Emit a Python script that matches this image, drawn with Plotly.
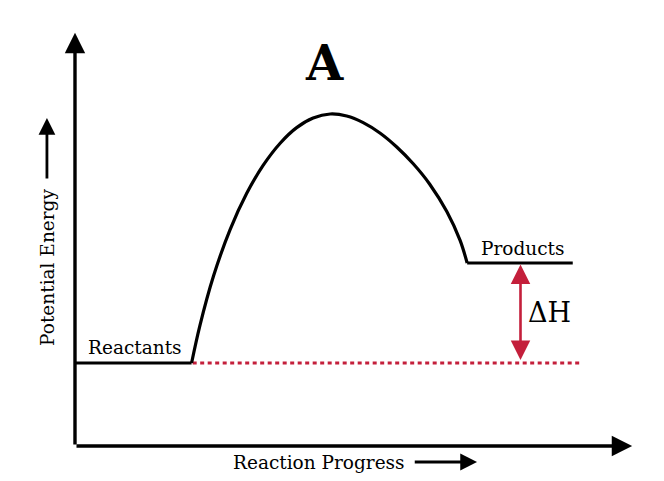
import plotly.graph_objects as go

# reaction progress (x) and potential energy (y), arbitrary units
reactant_x = [0, 21.2]
reactant_y = [20.75, 20.75]

barrier_x = [21.2, 22.7, 25.2, 28.2, 31.2, 34.2, 37.3, 40.3, 43.3, 46.4, 49.4,
             52.4, 55.5, 58.5, 61.5, 64.5, 67.6, 70.0, 71.3]
barrier_y = [20.75, 30.05, 42.55, 54.1, 63.1, 70.15, 75.7, 79.6, 82.0, 83.0, 82.5,
             80.85, 78.2, 74.75, 70.55, 65.45, 58.6, 51.45, 45.75]

product_x = [71.3, 90.5]
product_y = [45.75, 45.75]

ref_x = [21.4, 91.8]
ref_y = [20.75, 20.75]

dh_x = 81.0

# axis extents
x_axis_end = 101.3
y_axis_end = 103.3

FONT = "DejaVu Serif"
RED = "#c41f3b"

fig = go.Figure()
fig.add_trace(go.Scatter(x=ref_x, y=ref_y, mode="lines",
                         line=dict(color=RED, width=3, dash="4px,3.5px")))
fig.add_trace(go.Scatter(x=reactant_x, y=reactant_y, mode="lines",
                         line=dict(color="black", width=3.2)))
fig.add_trace(go.Scatter(x=barrier_x, y=barrier_y, mode="lines",
                         line=dict(color="black", width=3.2, shape="spline", smoothing=1.0)))
fig.add_trace(go.Scatter(x=product_x, y=product_y, mode="lines",
                         line=dict(color="black", width=3.2)))

ann = []
# axes with arrowheads
ann.append(dict(x=x_axis_end, y=0, ax=0, ay=0, xref="x", yref="y", axref="x", ayref="y",
                text="", showarrow=True, arrowhead=2, arrowsize=1.2, arrowwidth=3.4,
                arrowcolor="black", standoff=0))
ann.append(dict(x=0, y=y_axis_end, ax=0, ay=0, xref="x", yref="y", axref="x", ayref="y",
                text="", showarrow=True, arrowhead=2, arrowsize=1.2, arrowwidth=3.4,
                arrowcolor="black", standoff=0))
# delta H double arrow
ann.append(dict(x=dh_x, y=product_y[0] - 0.4, ax=dh_x, ay=reactant_y[0] + 0.4,
                xref="x", yref="y", axref="x", ayref="y", text="", showarrow=True,
                arrowhead=2, startarrowhead=2, arrowside="end+start", arrowsize=1.5,
                startarrowsize=1.5, arrowwidth=2.6, arrowcolor=RED, standoff=0, startstandoff=0))
# axis label arrows
ann.append(dict(x=73.1, y=-4, ax=61.5, ay=-4, xref="x", yref="y", axref="x", ayref="y",
                text="", showarrow=True, arrowhead=2, arrowsize=1.2, arrowwidth=2.8,
                arrowcolor="black", standoff=0))
ann.append(dict(x=-5.1, y=82, ax=-5.1, ay=66.5, xref="x", yref="y", axref="x", ayref="y",
                text="", showarrow=True, arrowhead=2, arrowsize=1.2, arrowwidth=2.8,
                arrowcolor="black", standoff=0))

# texts
ann.append(dict(x=45.45, y=95.75, text="<b>A</b>", showarrow=False,
                font=dict(family=FONT, size=48, color="black")))
ann.append(dict(x=10.9, y=24.6, text="Reactants", showarrow=False,
                font=dict(family=FONT, size=18.5, color="black")))
ann.append(dict(x=81.3, y=49.4, text="Products", showarrow=False,
                font=dict(family=FONT, size=18.5, color="black")))
ann.append(dict(x=86.3, y=33.3, text="ΔH", showarrow=False,
                font=dict(family=FONT, size=27, color="black")))
ann.append(dict(x=44.3, y=-4, text="Reaction Progress", showarrow=False,
                font=dict(family=FONT, size=18.5, color="black")))
ann.append(dict(x=-5.1, y=44.75, text="Potential Energy", showarrow=False, textangle=-90,
                font=dict(family=FONT, size=18.5, color="black")))

# the page body adds an 8px margin, so the figure is a bit smaller than the window
fig.update_layout(
    width=656, height=473,
    margin=dict(l=0, r=0, t=0, b=0),
    paper_bgcolor="white", plot_bgcolor="white",
    showlegend=False,
    annotations=ann,
    xaxis=dict(range=[-12.18, 107.09], visible=False, fixedrange=True),
    yaxis=dict(range=[-8.75, 109.5], visible=False, fixedrange=True),
)

fig.write_html("out.html")
